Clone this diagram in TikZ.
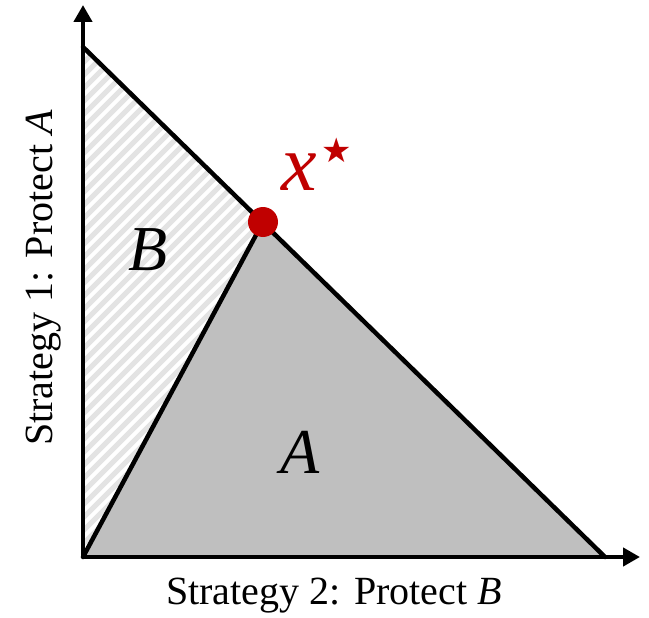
\documentclass[tikz,border=0pt]{standalone}
\usepackage{fontspec}
\setmainfont{Liberation Serif}
\newfontfamily\symfont{DejaVu Sans}
\usetikzlibrary{arrows.meta}
\definecolor{dred}{HTML}{C00000}
\definecolor{hatchgray}{HTML}{E3E3E3}
\definecolor{fillgray}{HTML}{BFBFBF}
\begin{document}
\begin{tikzpicture}[x=1pt,y=-1pt,
  axis/.style={line width=4.5pt,-{Triangle[length=17pt,width=18pt]}},
  edge/.style={line width=4.5pt,line join=round,line cap=round},
  lbl/.style={font=\fontsize{40}{40}\selectfont,inner sep=0pt},
  region/.style={font=\fontsize{64}{64}\selectfont\itshape,inner sep=0pt}]
\useasboundingbox (0,0) rectangle (649,618);
\coordinate (O) at (83,557);
\coordinate (T) at (83,47);
\coordinate (R) at (605,557);
\coordinate (X) at (263,222);
\coordinate (XE) at (640,557);
\coordinate (YE) at (83,5);
% hatched region B
\begin{scope}
  \clip (O) -- (T) -- (X) -- cycle;
  \foreach \i in {-40,...,60} {
    \draw[hatchgray,line width=5pt] (83+\i*13,557) -- ++(600,-600);
  }
\end{scope}
% gray region A
\fill[fillgray] (O) -- (X) -- (R) -- cycle;
% axes
\draw[axis] (O) -- (XE);
\draw[axis] (O) -- (YE);
% edges
\draw[edge] (T) -- (R);
\draw[edge] (O) -- (X);
% point
\fill[dred] (X) circle (15);
\node[lbl] (xlab) at (334,596) {Strategy 2: Protect \textit{B}};
\node[lbl,rotate=90] (ylab) at (44,278) {Strategy 1: Protect \textit{A}};
\node[region] (B) at (148,250) {B};
\node[region] (A) at (300,452) {A};
\node[text=dred,font=\fontsize{80}{80}\selectfont\itshape,inner sep=0pt] (xs) at (299,172) {x};
\node[text=dred,font=\symfont\fontsize{34}{34}\selectfont,inner sep=0pt] (star) at (337,150) {★};
\end{tikzpicture}
\end{document}
